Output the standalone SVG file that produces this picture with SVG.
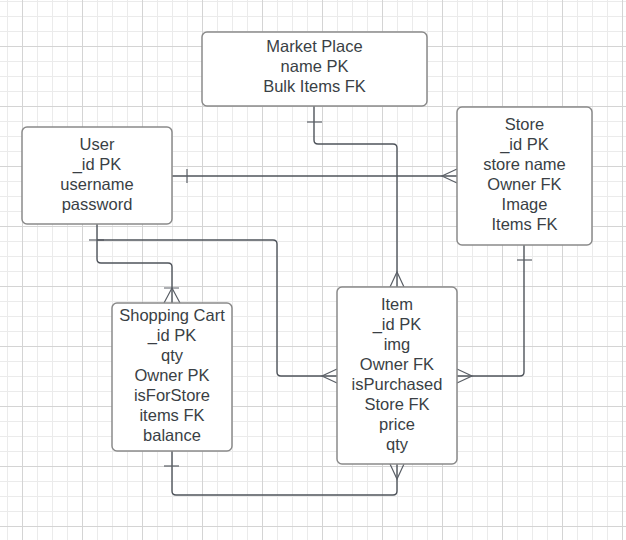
<svg xmlns="http://www.w3.org/2000/svg" width="626" height="540" viewBox="0 0 626 540">
<style>
.box{fill:#fff;stroke:#8a8a8a;stroke-width:1.5}
.t{font-family:"Liberation Sans",Arial,sans-serif;font-size:16.5px;fill:#3a3f45;text-anchor:middle}
.c{fill:none;stroke:#4f545b;stroke-width:1.4;stroke-linejoin:round}
.m{fill:none;stroke:#5a5f66;stroke-width:1.2}
</style>
<defs>
<pattern id="grid" x="22" y="46" width="60" height="60" patternUnits="userSpaceOnUse">
<path d="M15.5 0V60M30.5 0V60M45.5 0V60M0 15.5H60M0 30.5H60M0 45.5H60" stroke="#ebebeb" stroke-width="1" fill="none"/>
<path d="M0.5 0V60M0 0.5H60" stroke="#d4d4d4" stroke-width="1" fill="none"/>
</pattern>
</defs>
<rect width="626" height="540" fill="#fff"/>
<rect width="626" height="540" fill="url(#grid)"/>
<g id="connectors">
<!-- Market Place -> Item -->
<path class="c" d="M314 106V140Q314 144 318 144H393Q397 144 397 148V287"/>
<path class="m" d="M307 122H322"/>
<path class="m" d="M390 287L397 272L404 287"/>
<!-- User -> Store -->
<path class="c" d="M172 176H457"/>
<path class="m" d="M187 169V183"/>
<path class="m" d="M457 169L442 176L457 183"/>
<!-- User -> Shopping Cart -->
<path class="c" d="M97 224V259Q97 263 101 263H168Q172 263 172 267V303"/>
<path class="m" d="M89 240H104"/>
<path class="m" d="M164 288H179M164 303L172 288L180 303"/>
<!-- User -> Item -->
<path class="c" d="M97 240H273Q277 240 277 244V372Q277 376 281 376H337"/>
<path class="m" d="M337 369L322 376L337 383"/>
<!-- Store -> Item -->
<path class="c" d="M524 245V372Q524 376 520 376H457"/>
<path class="m" d="M517 260H532"/>
<path class="m" d="M457 369L472 376L457 383"/>
<!-- Shopping Cart -> Item -->
<path class="c" d="M172 451V491Q172 495 176 495H393Q397 495 397 491V464"/>
<path class="m" d="M164 466H179"/>
<path class="m" d="M390 464L397 479L404 464"/>
</g>
<g id="market-place">
<rect class="box" x="202" y="32" width="225" height="74" rx="5"/>
<text class="t" x="314.5" y="52">Market Place</text>
<text class="t" x="314.5" y="72">name PK</text>
<text class="t" x="314.5" y="92">Bulk Items FK</text>
</g>
<g id="user">
<rect class="box" x="22" y="127" width="150" height="97" rx="5"/>
<text class="t" x="97" y="150">User</text>
<text class="t" x="97" y="170">_id PK</text>
<text class="t" x="97" y="190">username</text>
<text class="t" x="97" y="210">password</text>
</g>
<g id="store">
<rect class="box" x="457" y="107" width="135" height="138" rx="5"/>
<text class="t" x="524.5" y="130">Store</text>
<text class="t" x="524.5" y="150">_id PK</text>
<text class="t" x="524.5" y="170">store name</text>
<text class="t" x="524.5" y="190">Owner FK</text>
<text class="t" x="524.5" y="210">Image</text>
<text class="t" x="524.5" y="230">Items FK</text>
</g>
<g id="shopping-cart">
<rect class="box" x="112" y="303" width="120" height="148" rx="5"/>
<text class="t" x="172" y="321">Shopping Cart</text>
<text class="t" x="172" y="341">_id PK</text>
<text class="t" x="172" y="361">qty</text>
<text class="t" x="172" y="381">Owner PK</text>
<text class="t" x="172" y="401">isForStore</text>
<text class="t" x="172" y="421">items FK</text>
<text class="t" x="172" y="441">balance</text>
</g>
<g id="item">
<rect class="box" x="337" y="287" width="120" height="177" rx="5"/>
<text class="t" x="397" y="310">Item</text>
<text class="t" x="397" y="330">_id PK</text>
<text class="t" x="397" y="350">img</text>
<text class="t" x="397" y="370">Owner FK</text>
<text class="t" x="397" y="390">isPurchased</text>
<text class="t" x="397" y="410">Store FK</text>
<text class="t" x="397" y="430">price</text>
<text class="t" x="397" y="450">qty</text>
</g>
</svg>
